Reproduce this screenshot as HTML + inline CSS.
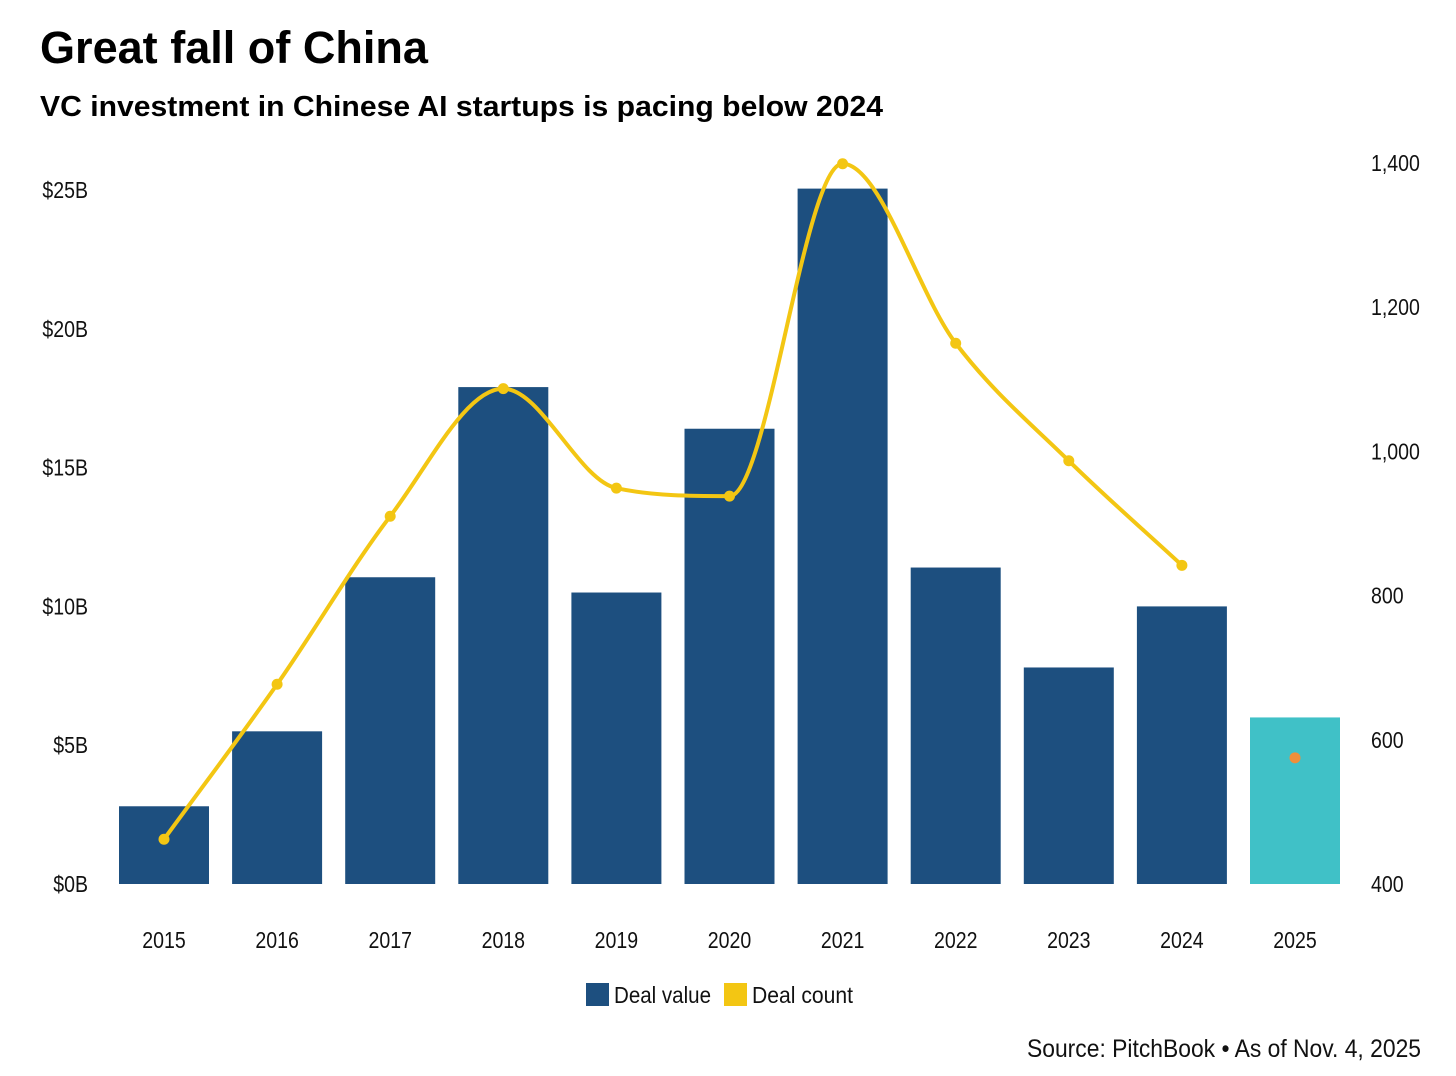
<!DOCTYPE html>
<html><head><meta charset="utf-8">
<style>
body{margin:0;background:#fff;width:1456px;height:1071px;overflow:hidden;font-family:"Liberation Sans",sans-serif;}
svg text{font-family:"Liberation Sans",sans-serif;}
</style></head>
<body>
<svg id="chart" width="1456" height="1071">
<text x="40" y="63" font-size="45" font-weight="bold" fill="#000" textLength="388" lengthAdjust="spacingAndGlyphs">Great fall of China</text>
<text x="40" y="116" font-size="29" font-weight="bold" fill="#000" textLength="843" lengthAdjust="spacingAndGlyphs">VC investment in Chinese AI startups is pacing below 2024</text>
<g id="bars"></g><g id="line"></g><g id="axes"></g>
<g>
<rect x="586" y="983" width="23" height="23" fill="#1d4f7f"/>
<text x="614" y="1003" font-size="23" fill="#111" textLength="97" lengthAdjust="spacingAndGlyphs">Deal value</text>
<rect x="724" y="983" width="23" height="23" fill="#f3c613"/>
<text x="752" y="1003" font-size="23" fill="#111" textLength="101" lengthAdjust="spacingAndGlyphs">Deal count</text>
</g>
<text x="1027" y="1057" font-size="25" fill="#111" textLength="394" lengthAdjust="spacingAndGlyphs">Source: PitchBook • As of Nov. 4, 2025</text>
</svg>
<script>
const years=["2015","2016","2017","2018","2019","2020","2021","2022","2023","2024","2025"];
const dealValue=[2.8,5.5,11.05,17.9,10.5,16.4,25.05,11.4,7.8,10.0,6.0];
const dealCount=[462,677,910,1087,949,938,1399,1150,987,842,575];
const leftTicks=[0,5,10,15,20,25];
const leftTickLabels=["$0B","$5B","$10B","$15B","$20B","$25B"];
const rightTicks=[400,600,800,1000,1200,1400];
const rightTickLabels=["400","600","800","1,000","1,200","1,400"];
const NS="http://www.w3.org/2000/svg";
const x0=164,step=113.1,bw=90;
const xs=i=>x0+i*step;
const yL=v=>884-v*(694/25);
const yR=v=>884-(v-400)*(721/1000);
function mk(tag,attrs,parent){const e=document.createElementNS(NS,tag);for(const k in attrs)e.setAttribute(k,attrs[k]);parent.appendChild(e);return e;}
const bars=document.getElementById('bars'),line=document.getElementById('line'),axes=document.getElementById('axes');
dealValue.forEach((v,i)=>{
  const r=mk('rect',{x:xs(i)-bw/2,y:yL(v),width:bw,height:yL(0)-yL(v),fill:i===years.length-1?'#40c1c7':'#1d4f7f'},bars);
  
  
});
const pts=dealCount.slice(0,-1).map((v,i)=>[xs(i),yR(v)]);
const n=pts.length;const dk=[],m=[];
for(let i=0;i<n-1;i++)dk.push((pts[i+1][1]-pts[i][1])/(pts[i+1][0]-pts[i][0]));
m[0]=dk[0];m[n-1]=dk[n-2];
for(let i=1;i<n-1;i++){m[i]=(dk[i-1]*dk[i]<=0)?0:(dk[i-1]+dk[i])/2;}
for(let i=0;i<n-1;i++){if(dk[i]===0){m[i]=m[i+1]=0;continue;}const a=m[i]/dk[i],b=m[i+1]/dk[i],s=a*a+b*b;if(s>9){const t=3/Math.sqrt(s);m[i]=t*a*dk[i];m[i+1]=t*b*dk[i];}}
let d='M'+pts[0][0]+','+pts[0][1];
for(let i=0;i<n-1;i++){const h=(pts[i+1][0]-pts[i][0])/3;
  d+=` C${pts[i][0]+h},${pts[i][1]+m[i]*h} ${pts[i+1][0]-h},${pts[i+1][1]-m[i+1]*h} ${pts[i+1][0]},${pts[i+1][1]}`;}
const path=mk('path',{d:d,fill:'none',stroke:'#f3c613','stroke-width':4},line);


dealCount.forEach((v,i)=>{
  const last=i===dealCount.length-1;
  const c=mk('circle',{cx:xs(i),cy:yR(v),r:5.5,fill:last?'#ef8f3a':'#f3c613'},line);
  
  
});
function label(x,y,txt,anchor,name){
  const t=mk('text',{transform:`translate(${x},${y}) scale(0.85,1)`,'font-size':23,fill:'#111','text-anchor':anchor},axes);
  t.textContent=txt;
  
  
}
leftTicks.forEach((v,i)=>label(88,yL(v)+8,leftTickLabels[i],'end','left-axis-tick-label'));
rightTicks.forEach((v,i)=>label(1371,yR(v)+8,rightTickLabels[i],'start','right-axis-tick-label'));
years.forEach((y,i)=>label(xs(i),948,y,'middle','x-axis-tick-label'));
</script>
</body></html>
